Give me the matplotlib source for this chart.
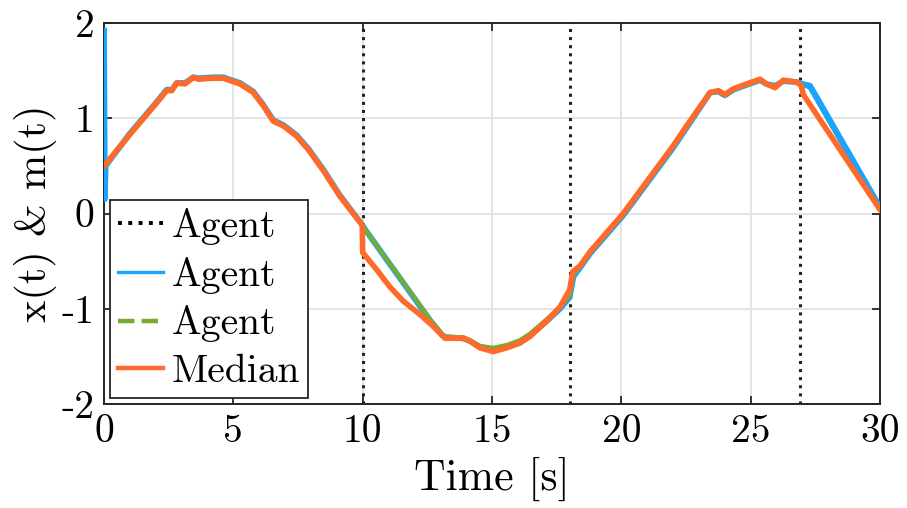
import matplotlib
matplotlib.use("Agg")
import matplotlib.pyplot as plt
from matplotlib.lines import Line2D

plt.rcParams["font.family"] = ["cmr10", "DejaVu Serif"]
plt.rcParams["axes.unicode_minus"] = False
plt.rcParams["axes.formatter.use_mathtext"] = True

# Median estimate m(t)
t_med = [0.0, 1.0, 2.0, 2.42, 2.62, 2.81, 3.13, 3.45, 3.65, 4.2, 4.61, 5.26, 5.77,
         6.16, 6.54, 6.93, 7.45, 7.90, 8.48, 9.12, 9.98, 10.0, 10.54, 11.05, 11.57,
         12.21, 12.67, 13.18, 13.89, 14.15, 14.53, 15.05, 15.57, 16.08, 16.47, 17.11,
         17.63, 18.0, 18.12, 18.4, 18.79, 20.07, 22.0, 22.52, 23.43, 23.75, 24.0,
         24.33, 24.84, 25.36, 25.61, 25.94, 26.26, 26.77, 26.96, 27.03, 30.0]
m_med = [0.50, 0.83, 1.15, 1.29, 1.29, 1.37, 1.36, 1.43, 1.41, 1.42, 1.42, 1.36, 1.27,
         1.13, 0.97, 0.92, 0.81, 0.67, 0.45, 0.18, -0.12, -0.41, -0.59, -0.77, -0.92,
         -1.06, -1.17, -1.31, -1.31, -1.34, -1.41, -1.45, -1.41, -1.36, -1.29, -1.13,
         -0.98, -0.80, -0.61, -0.55, -0.40, 0.00, 0.71, 0.92, 1.27, 1.29, 1.25,
         1.31, 1.36, 1.41, 1.36, 1.32, 1.40, 1.38, 1.34, 1.25, 0.04]

# Agent states x(t)
t_ag = [0.0, 0.03, 0.06, 1.0, 2.0, 2.42, 2.62, 2.81, 3.13, 3.45, 3.65, 4.2, 4.61, 5.26,
        5.77, 6.16, 6.54, 6.93, 7.45, 7.90, 8.48, 9.12, 9.98, 10.1, 12.6, 13.05,
        13.18, 13.89, 14.15, 14.53, 15.05, 15.57, 16.08, 16.47, 17.11, 17.63, 18.0,
        18.15, 18.4, 18.79, 20.07, 22.0, 22.52, 23.43, 23.75, 24.0, 24.33, 24.84,
        25.36, 25.61, 25.94, 26.26, 26.77, 26.96, 27.29, 30.0]
x_blue = [1.92, 0.15, 0.50, 0.84, 1.16, 1.30, 1.30, 1.37, 1.37, 1.43, 1.42, 1.43, 1.43,
          1.37, 1.28, 1.14, 0.98, 0.93, 0.82, 0.68, 0.46, 0.19, -0.12, -0.17, -1.12,
          -1.27, -1.30, -1.31, -1.34, -1.40, -1.43, -1.40, -1.35, -1.28, -1.13, -1.00,
          -0.88, -0.66, -0.57, -0.42, -0.02, 0.69, 0.90, 1.27, 1.28, 1.24, 1.30, 1.35,
          1.40, 1.36, 1.34, 1.39, 1.38, 1.36, 1.34, 0.06]
x_green = [0.50, 0.50, 0.50, 0.84, 1.16, 1.30, 1.30, 1.37, 1.37, 1.43, 1.42, 1.43, 1.43,
           1.37, 1.28, 1.14, 0.98, 0.93, 0.82, 0.68, 0.46, 0.19, -0.12, -0.17, -1.11,
           -1.26, -1.29, -1.30, -1.33, -1.39, -1.41, -1.38, -1.33, -1.26, -1.11, -0.98,
           -0.86, -0.64, -0.56, -0.41, -0.01, 0.70, 0.91, 1.27, 1.28, 1.24, 1.30, 1.35,
           1.40, 1.36, 1.34, 1.39, 1.38, 1.36, 1.32, 0.04]
x_dot = [0.65, 0.30, 0.50, 0.84, 1.16, 1.30, 1.30, 1.37, 1.37, 1.43, 1.42, 1.43, 1.43,
         1.37, 1.28, 1.14, 0.98, 0.93, 0.82, 0.68, 0.46, 0.19, -0.12, -0.17, -1.12,
         -1.27, -1.30, -1.31, -1.34, -1.40, -1.43, -1.40, -1.35, -1.28, -1.13, -1.00,
         -0.88, -0.66, -0.57, -0.42, -0.02, 0.69, 0.90, 1.27, 1.28, 1.24, 1.30, 1.35,
         1.40, 1.36, 1.34, 1.39, 1.38, 1.36, 1.34, 0.06]

# Topology switching instants
switch_times = [10.0, 18.0, 26.9]

xticks = [0, 5, 10, 15, 20, 25, 30]
yticks = [-2, -1, 0, 1, 2]
xtick_labels = ["0", "5", "10", "15", "20", "25", "30"]
ytick_labels = ["-2", "-1", "0", "1", "2"]
legend_labels = ["Agent", "Agent", "Agent", "Median"]

c_blue = "#18A4FF"
c_green = "#77AC30"
c_orange = "#FF6A2B"

fig = plt.figure(figsize=(9.07, 5.08), dpi=100)
ax = fig.add_axes([0.1147, 0.2047, 0.8556, 0.75])

ax.plot(t_ag, x_dot, color="black", ls=":", lw=2.2, zorder=2)
for ts in switch_times:
    ax.axvline(ts, color="#222222", ls=":", lw=2.2, zorder=2)
ax.plot(t_ag, x_blue, color=c_blue, lw=4.2, zorder=3)
ax.plot(t_ag, x_green, color=c_green, lw=3.0, zorder=4)
# last segment of the blue agent sits above the green one
i_last = t_ag.index(26.96)
ax.plot(t_ag[i_last:], x_blue[i_last:], color=c_blue, lw=4.2, zorder=4.5)
ax.plot(t_med, m_med, color=c_orange, lw=4.0, zorder=5)

ax.set_xlim(0, 30)
ax.set_ylim(-2, 2)
ax.set_xticks(xticks, labels=xtick_labels)
ax.set_yticks(yticks, labels=ytick_labels)
ax.grid(True, color="#E2E2E2", lw=1.3)
ax.set_axisbelow(True)
ax.tick_params(direction="in", length=6, width=1.3, top=True, right=True,
               labelsize=28.5, pad=7, color="#262626")
for s in ax.spines.values():
    s.set_linewidth(1.4)
    s.set_color("#262626")

ax.set_xlabel("Time [s]", fontsize=31.5, labelpad=5)
ax.set_ylabel("x(t) & m(t)", fontsize=30.5, labelpad=3)

handles = [
    Line2D([], [], color="black", ls=":", lw=2.8),
    Line2D([], [], color=c_blue, lw=2.4),
    Line2D([], [], color=c_green, ls="--", lw=3.2),
    Line2D([], [], color=c_orange, lw=3.2),
]
leg = ax.legend(handles, legend_labels, loc="lower left",
                fontsize=28.5, frameon=True, fancybox=False, framealpha=1,
                edgecolor="#262626", borderpad=0.2, labelspacing=0.3,
                handlelength=1.15, handletextpad=0.2, borderaxespad=0.15)
leg.get_frame().set_linewidth(1.3)

fig.savefig("out.png", dpi=100)
